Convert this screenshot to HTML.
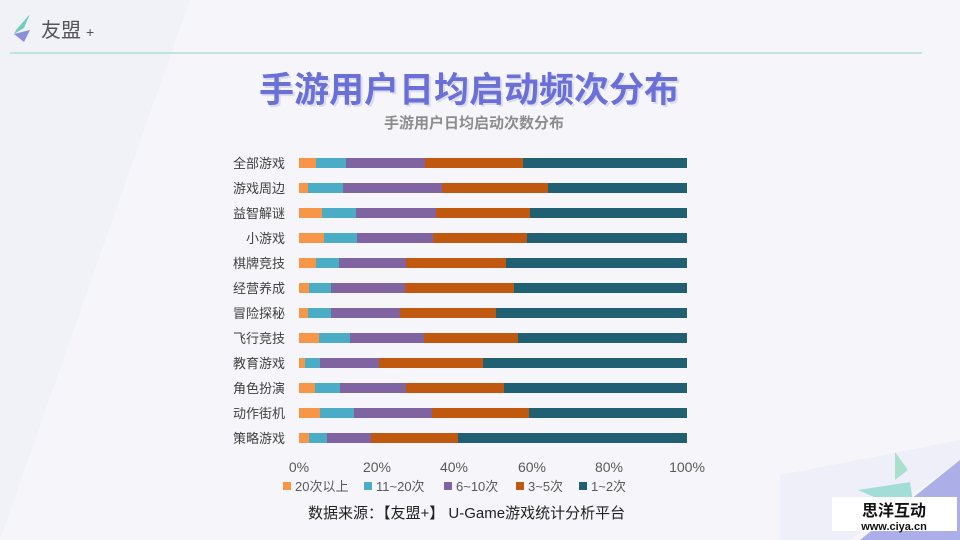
<!DOCTYPE html>
<html><head><meta charset="utf-8"><style>
body{margin:0;width:960px;height:540px;overflow:hidden;background:#f3f3f9;font-family:"Liberation Sans","Noto Sans CJK SC",sans-serif}
</style></head><body>
<svg width="960" height="540" xmlns="http://www.w3.org/2000/svg" style="position:absolute;left:0;top:0">
<rect width="960" height="540" fill="#f1f1f8"/>
<polygon points="190,0 960,0 960,540 0,540" fill="#f6f6fa"/>
<polygon points="960,460 960,540 860,540" fill="#acaee8"/>
<polygon points="780,475 960,440 960,460 850,540 780,540" fill="#efeff9"/>
<polygon points="895,452 908,470 895,480" fill="#a8e0cc"/>
<polygon points="858,490 910,482 915,515" fill="#8fd8d0" opacity="0.8"/>
<line x1="10" y1="53" x2="922" y2="53" stroke="#8fd6c4" stroke-width="1"/>
<polygon points="16,30 30,14 24,28 14,34" fill="#6fd0c0"/>
<polygon points="14,34 30,30 24,42" fill="#8a8fd8"/>
<text x="41" y="37" font-size="20" fill="#555">友盟</text>
<text x="86" y="37" font-size="14" fill="#555">+</text>
<text x="471" y="104" font-size="35" font-weight="bold" fill="#dcdcf0" text-anchor="middle">手游用户日均启动频次分布</text>
<text x="469" y="102" font-size="35" font-weight="bold" fill="#6b70d8" text-anchor="middle">手游用户日均启动频次分布</text>
<text x="474" y="128" font-size="15" font-weight="bold" fill="#8c8c8c" text-anchor="middle">手游用户日均启动次数分布</text>
<g id="bars"></g>
<g font-size="14" fill="#595959" text-anchor="middle">
<text x="299" y="472">0%</text><text x="377" y="472">20%</text><text x="454" y="472">40%</text><text x="532" y="472">60%</text><text x="609" y="472">80%</text><text x="687" y="472">100%</text>
</g>
<g font-size="13" fill="#595959">
<rect x="283" y="482" width="8" height="8" fill="#f79646"/><text x="295" y="491">20次以上</text>
<rect x="364" y="482" width="8" height="8" fill="#4bacc6"/><text x="376" y="491">11~20次</text>
<rect x="444" y="482" width="8" height="8" fill="#8064a2"/><text x="456" y="491">6~10次</text>
<rect x="516" y="482" width="8" height="8" fill="#c0580f"/><text x="528" y="491">3~5次</text>
<rect x="579" y="482" width="8" height="8" fill="#215f73"/><text x="591" y="491">1~2次</text>
</g>
<text x="308" y="518" font-size="15" fill="#222">数据来源：【友盟+】 U-Game游戏统计分析平台</text>
<rect x="832" y="497" width="125" height="34" fill="#fff"/>
<text x="894" y="516" font-size="16" font-weight="bold" fill="#111" text-anchor="middle">思洋互动</text>
<text x="894" y="530" font-size="11" font-weight="bold" fill="#111" text-anchor="middle">www.ciya.cn</text>
</svg>
<script>
var rows=[["全部游戏",[316,346,425,523]],["游戏周边",[308,343,442,548]],["益智解谜",[322,356,436,530]],["小游戏",[324,357,433,527]],["棋牌竞技",[316,339,406,506]],["经营养成",[309,331,405,514]],["冒险探秘",[308,331,400,496]],["飞行竞技",[319,350,424,518]],["教育游戏",[305,320,379,483]],["角色扮演",[315,340,406,504]],["动作街机",[320,354,432,529]],["策略游戏",[309,327,371,458]]];
var c=["#f79646","#4bacc6","#8064a2","#c0580f","#215f73"],s="";
rows.forEach(function(r,i){var y=158+i*25;var b=[299].concat(r[1]).concat([687]);
for(var k=0;k<5;k++)s+='<rect x="'+b[k]+'" y="'+y+'" width="'+(b[k+1]-b[k])+'" height="10" fill="'+c[k]+'"/>';
s+='<text x="285" y="'+(y+10)+'" font-size="13" fill="#404040" text-anchor="end">'+r[0]+'</text>';});
document.getElementById("bars").innerHTML=s;
</script>
</body></html>
